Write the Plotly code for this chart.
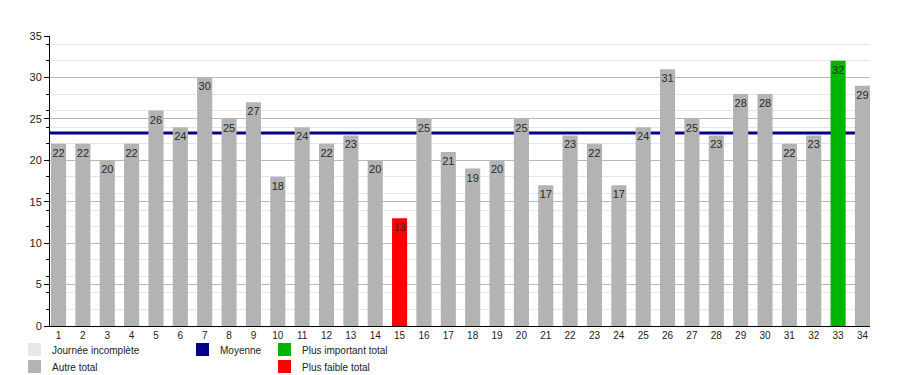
import numpy as np
import plotly.graph_objects as go

days = list(range(1, 35))
values = [22, 22, 20, 22, 26, 24, 30, 25, 27, 18, 24, 22, 23, 20, 13, 25, 21,
          19, 20, 25, 17, 23, 22, 17, 24, 31, 25, 23, 28, 28, 22, 23, 32, 29]
y_ticks = [0, 5, 10, 15, 20, 25, 30, 35]

legend_left = [("Journée incomplète", "#e8e8e8"), ("Autre total", "#b3b3b3")]
legend_mid = [("Moyenne", "#00008b")]
legend_right = [("Plus important total", "#00b400"), ("Plus faible total", "#ff0000")]

vmax, vmin = max(values), min(values)
colors = ["#00b400" if v == vmax else "#ff0000" if v == vmin else "#b3b3b3" for v in values]
mean_val = float(np.mean(values))

fig = go.Figure()
fig.add_trace(go.Bar(
    x=days, y=values, width=0.62, marker=dict(color=colors, line=dict(width=0)),
    text=[str(v) for v in values], textposition="inside", insidetextanchor="end",
    textangle=0, constraintext="none",
    textfont=dict(family="Liberation Sans, Arial, sans-serif", size=11, color="#2a2a2a"),
    showlegend=False, hoverinfo="x+y",
))

fig.add_shape(type="line", xref="paper", yref="y", x0=0, x1=1, y0=mean_val, y1=mean_val,
              line=dict(color="#00008b", width=3), layer="between")

# legend drawn as swatches and labels
W, H = 900, 375
L, R, T, B = 50, 30, 36, 49
pw, ph = W - L - R, H - T - B


def px2paper(x, y):
    return (x - L) / pw, (H - B - y) / ph


def add_entry(x, y, label, color):
    x0, y0 = px2paper(x, y - 7)
    x1, y1 = px2paper(x + 13, y + 6)
    fig.add_shape(type="rect", xref="paper", yref="paper", x0=x0, x1=x1, y0=y0, y1=y1,
                  fillcolor=color, line=dict(width=0))
    tx, ty = px2paper(x + 22, y)
    fig.add_annotation(xref="paper", yref="paper", x=tx, y=ty, text=label, showarrow=False,
                       xanchor="left", yanchor="middle",
                       font=dict(family="Liberation Sans, Arial, sans-serif", size=10, color="#222222"))


for i, (lab, col) in enumerate(legend_left):
    add_entry(28, 350 + 17 * i, lab, col)
for i, (lab, col) in enumerate(legend_mid):
    add_entry(196, 350 + 17 * i, lab, col)
for i, (lab, col) in enumerate(legend_right):
    add_entry(278, 350 + 17 * i, lab, col)

fig.update_layout(
    width=W, height=H, margin=dict(l=L, r=R, t=T, b=B),
    plot_bgcolor="white", paper_bgcolor="white", bargap=0.38,
    font=dict(family="Liberation Sans, Arial, sans-serif", size=11, color="#222222"),
    xaxis=dict(range=[0.65, 34.31], tickmode="array", tickvals=days, ticktext=[str(d) for d in days],
               showgrid=False, showline=True, linecolor="black", linewidth=1, ticks="",
               tickfont=dict(size=10), zeroline=False, fixedrange=True),
    yaxis=dict(range=[0, 35], tickmode="array", tickvals=y_ticks, showline=True, linecolor="black",
               linewidth=1, ticks="outside", ticklen=5, tickcolor="black", gridcolor="#b8b8b8",
               gridwidth=1, zeroline=False, tickfont=dict(size=11), fixedrange=True,
               minor=dict(tick0=0, dtick=2, showgrid=True, gridcolor="#e6e6e6", ticks="outside",
                          ticklen=3, tickcolor="black")),
)

fig.write_html("out.html", config={"displayModeBar": False},
               post_script="document.body.style.margin='0';document.body.style.overflow='hidden';")
